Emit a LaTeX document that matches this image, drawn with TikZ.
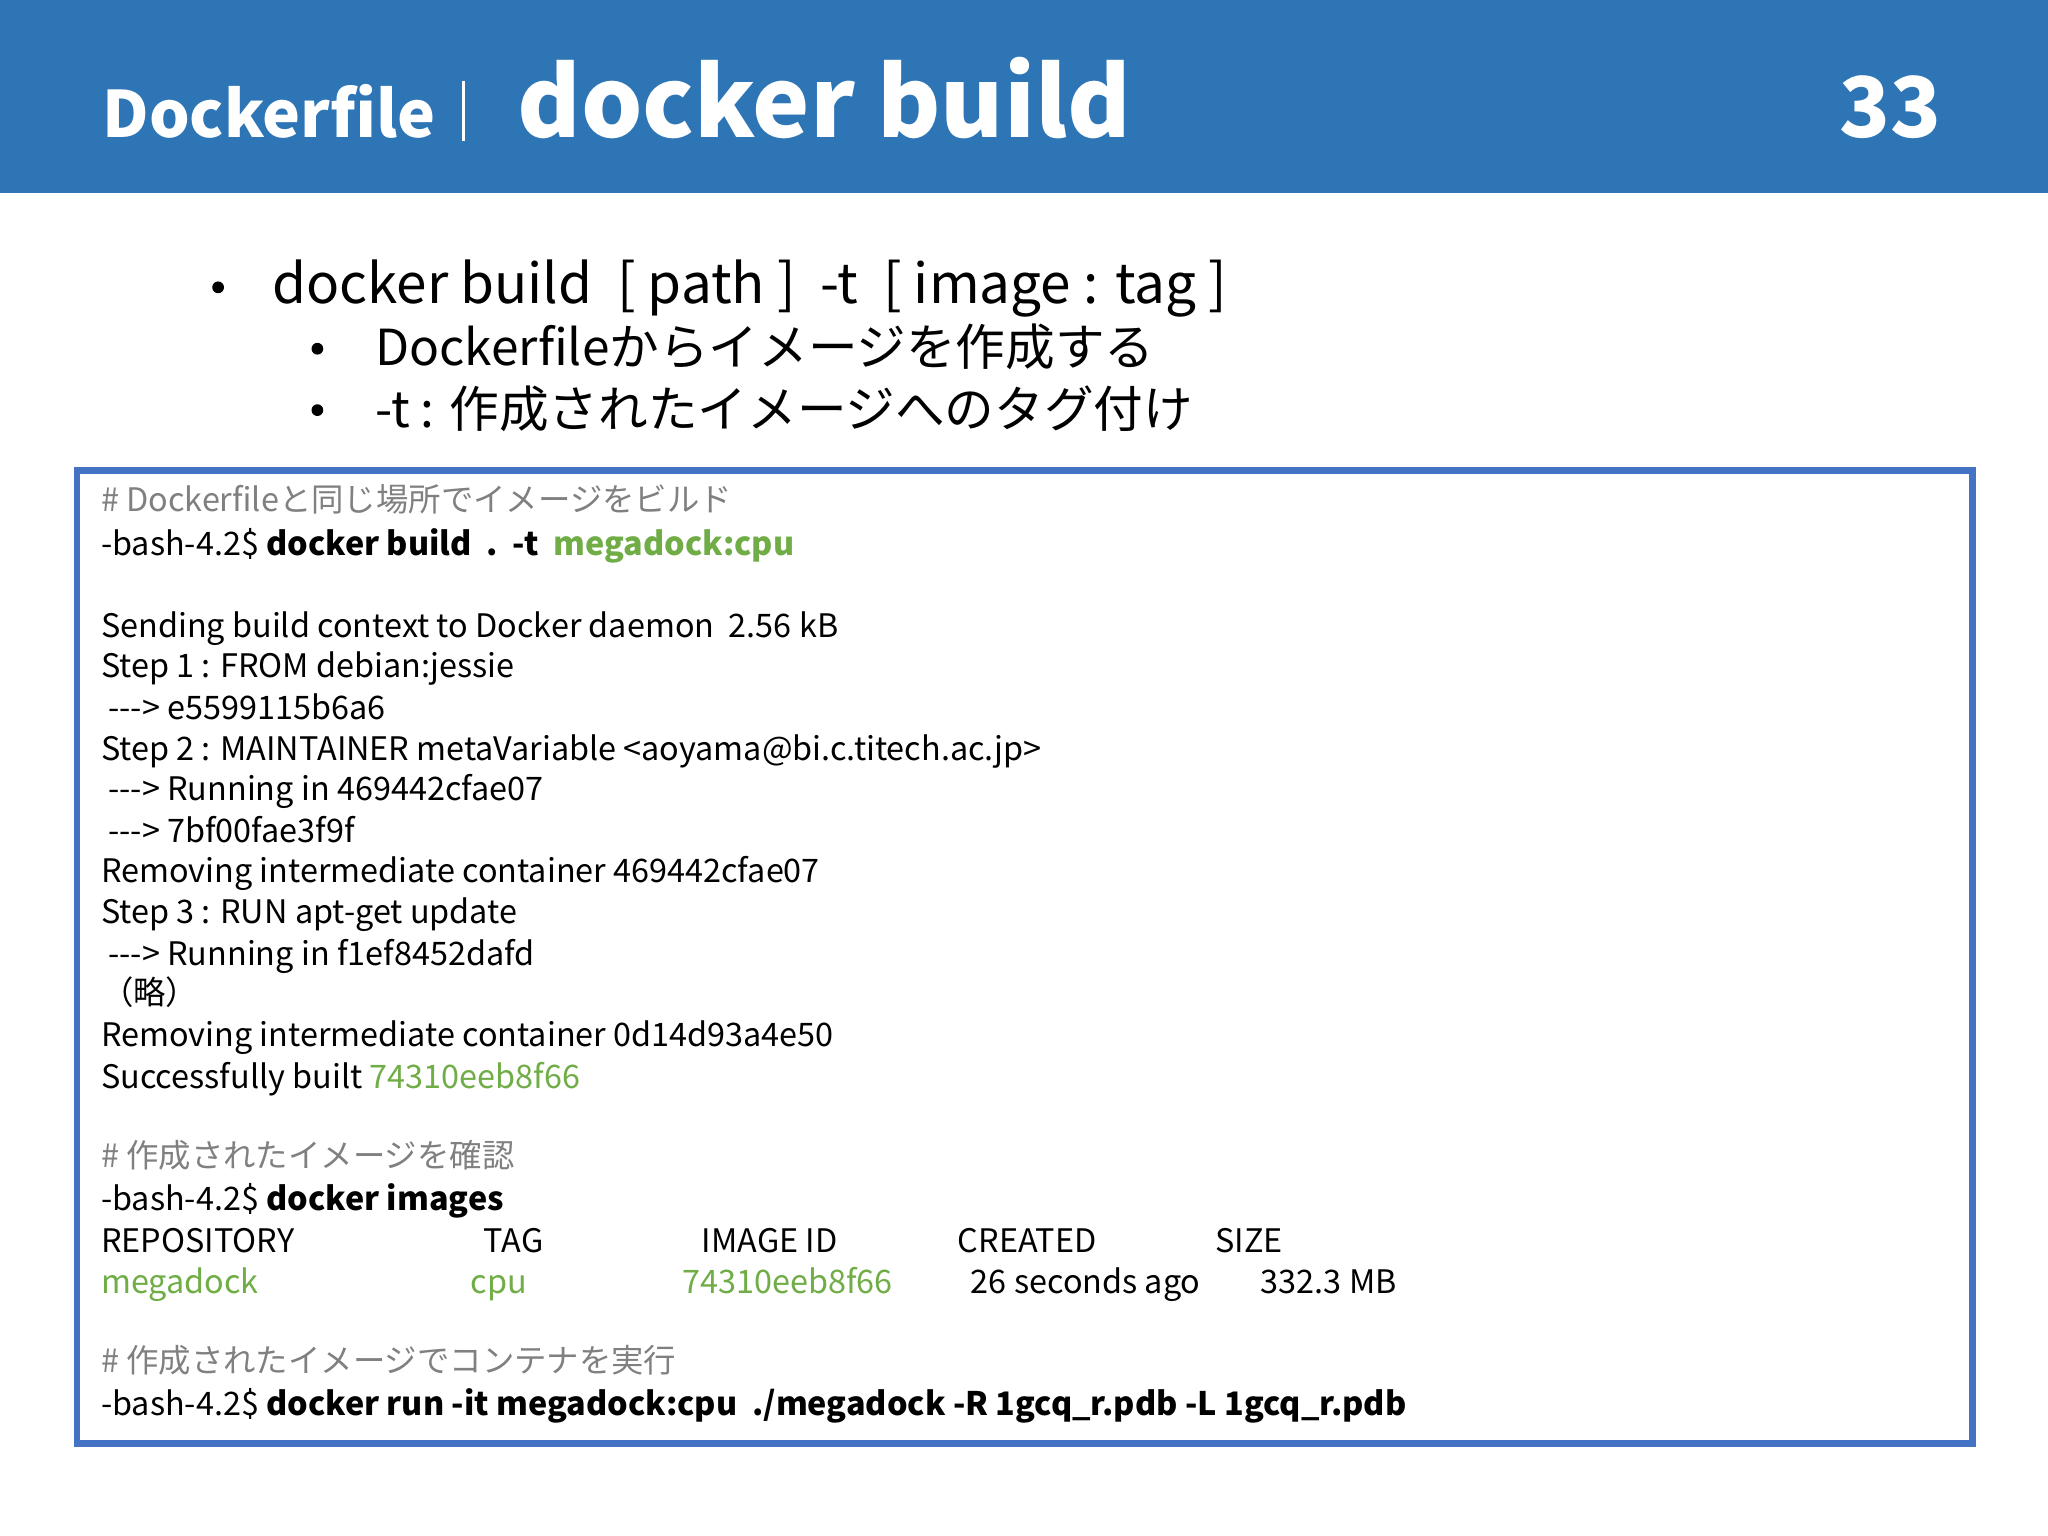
\documentclass[tikz,border=0pt]{standalone}
\usepackage{fontspec}
\setmainfont{Noto Sans CJK JP}
\definecolor{hdr}{RGB}{46,117,182}
\definecolor{boxb}{RGB}{68,114,196}
\definecolor{grn}{RGB}{112,173,71}
\definecolor{gry}{RGB}{128,128,128}
\newcommand{\arr}{-{}-{}->}
\tikzset{t/.style={anchor=base west,inner sep=0pt,font=\fontsize{12.4}{15}\selectfont,yshift=-4.5pt},
 b/.style={anchor=base west,inner sep=0pt,font=\fontsize{21}{24}\selectfont,yshift=-7pt},
 dot/.style={circle,fill=black,inner sep=0pt,minimum size=4.5pt}}
\begin{document}
\begin{tikzpicture}[x=0.5pt,y=-0.5pt]
\useasboundingbox (0,0) rectangle (1568,1176);
\fill[hdr] (0,0) rectangle (1568,148);
\node[anchor=base west,inner sep=0pt,text=white,font=\fontsize{24.5}{28}\selectfont\bfseries] (h1) at (78,105) {Dockerfile};
\draw[white,line width=1.2pt] (355,62) -- (355,108);
\node[anchor=base west,inner sep=0pt,text=white,font=\fontsize{37}{42}\selectfont\bfseries] (h2) at (396,105) {docker build};
\node[anchor=base east,inner sep=0pt,text=white,font=\fontsize{32}{36}\selectfont\bfseries] (h3) at (1487,105) {33};
\node[dot] (d1) at (167,220) {};
\node[b] (b1) at (208,218) {docker build\ \ [ path ]\ \ -t\ \ [ image : tag ]};
\node[dot] (d2) at (243,267) {};
\node[b,font=\fontsize{19}{22}\selectfont] (b2) at (287,266) {Dockerfileからイメージを作成する};
\node[dot] (d3) at (243,314) {};
\node[b,font=\fontsize{19}{22}\selectfont] (b3) at (287,313) {-t : 作成されたイメージへのタグ付け};
\draw[boxb,line width=2.6pt] (59,360) rectangle (1510,1105);
\node[t,text=gry] (l1) at (77,383) {\# Dockerfileと同じ場所でイメージをビルド};
\node[t] (l2) at (77,416) {-bash-4.2\$ \textbf{docker build\ \ .\ \ -t}\ \ \textcolor{grn}{\textbf{megadock:cpu}}};
\node[t] (l3) at (77,479) {Sending build context to Docker daemon\ \ 2.56 kB};
\node[t] (l4) at (77,510) {Step 1 : FROM debian:jessie};
\node[t] (l5) at (77,542) {\ \arr\ e5599115b6a6};
\node[t] (l6) at (77,573) {Step 2 : MAINTAINER metaVariable <aoyama@bi.c.titech.ac.jp>};
\node[t] (l7) at (77,604) {\ \arr\ Running in 469442cfae07};
\node[t] (l8) at (77,636) {\ \arr\ 7bf00fae3f9f};
\node[t] (l9) at (77,667) {Removing intermediate container 469442cfae07};
\node[t] (l10) at (77,698) {Step 3 : RUN apt-get update};
\node[t] (l11) at (77,730) {\ \arr\ Running in f1ef8452dafd};
\node[t] (l12) at (77,760) {（略）};
\node[t] (l13) at (77,792) {Removing intermediate container 0d14d93a4e50};
\node[t] (l14) at (77,824) {Successfully built \textcolor{grn}{74310eeb8f66}};
\node[t,text=gry] (l15) at (77,885) {\# 作成されたイメージを確認};
\node[t] (l16) at (77,918) {-bash-4.2\$ \textbf{docker images}};
\node[t] (c1) at (77,950) {REPOSITORY};
\node[t] (c2) at (370,950) {TAG};
\node[t] (c3) at (537,950) {IMAGE ID};
\node[t] (c4) at (733,950) {CREATED};
\node[t] (c5) at (930,950) {SIZE};
\node[t,text=grn] (r1) at (77,981) {megadock};
\node[t,text=grn] (r2) at (360,981) {cpu};
\node[t,text=grn] (r3) at (522,981) {74310eeb8f66};
\node[t] (r4) at (743,981) {26 seconds ago};
\node[t] (r5) at (965,981) {332.3 MB};
\node[t,text=gry] (l17) at (77,1042) {\# 作成されたイメージでコンテナを実行};
\node[t] (l18) at (77,1075) {-bash-4.2\$ \textbf{docker run -it megadock:cpu\ \ ./megadock -R 1gcq\_r.pdb -L 1gcq\_r.pdb}};
\end{tikzpicture}
\end{document}
